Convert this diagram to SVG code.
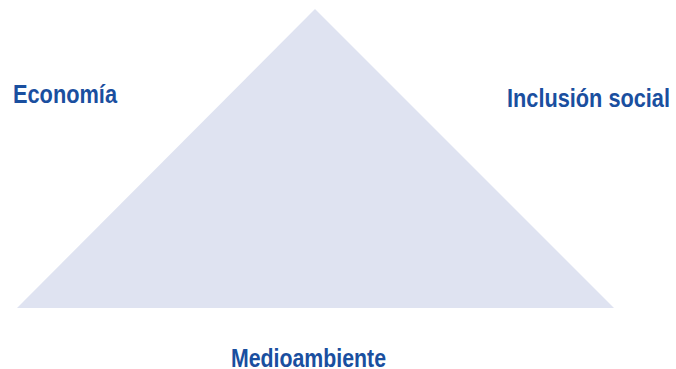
<svg xmlns="http://www.w3.org/2000/svg" width="676" height="369" viewBox="0 0 676 369">
<style>
.lbl{font-family:"Liberation Sans",Arial,sans-serif;font-weight:bold;font-size:26px;fill:#1a4f9f}
</style>
<rect width="676" height="369" fill="#ffffff"/>
<g id="triangle">
<polygon points="315,9 17,308 614,308" fill="#dfe3f1"/>
</g>
<g id="connectors"></g>
<g id="economia"><text class="lbl" x="13" y="103" textLength="104" lengthAdjust="spacingAndGlyphs">Economía</text></g>
<g id="inclusion"><text class="lbl" x="507" y="107" textLength="163" lengthAdjust="spacingAndGlyphs">Inclusión social</text></g>
<g id="medioambiente"><text class="lbl" x="231" y="366.5" textLength="155" lengthAdjust="spacingAndGlyphs">Medioambiente</text></g>
</svg>
